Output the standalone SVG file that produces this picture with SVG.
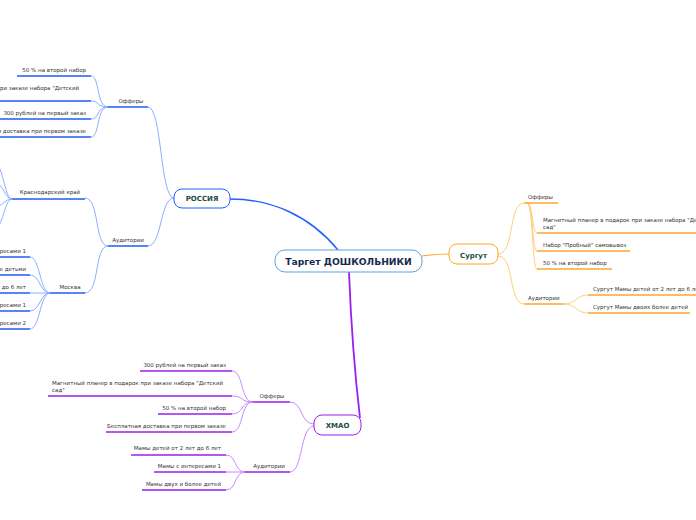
<svg xmlns="http://www.w3.org/2000/svg" width="696" height="520" viewBox="0 0 696 520">
<style>
text{font-family:"DejaVu Sans","Liberation Sans",sans-serif;fill:#333;font-size:5.5px}
.e{text-anchor:end}
.m{text-anchor:middle}
.nb{font-weight:bold;fill:#1d4b3a;font-size:7px;text-anchor:middle}
.root{font-weight:bold;fill:#172a4d;font-size:9.2px;text-anchor:middle}
path{fill:none}
.bU{stroke:#1f5cf5;stroke-width:1.4}
.bC{stroke:#7ea4ff;stroke-width:0.9}
.oU{stroke:#ffa628;stroke-width:1.4}
.oC{stroke:#ffc870;stroke-width:0.9}
.pU{stroke:#9a1fef;stroke-width:1.4}
.pC{stroke:#c27cff;stroke-width:0.9}
</style>
<rect width="696" height="520" fill="#fff"/>
<g id="connectors">
<path d="M338,250 C310,216 272,199 230,199" stroke="#2060ff" stroke-width="1.4"/>
<path d="M422,256 C436,254 440,254 449,254" stroke="#ffa628" stroke-width="1.2"/>
<path d="M349,272 Q352,350 360,418" stroke="#9a1fef" stroke-width="1.8"/>
<path class="bC" d="M174,198 C160,198 162,107 148,107"/>
<path class="bC" d="M174,198 C160,198 162,246 148,246"/>
<path class="bC" d="M108,107 C96,107 100,76 91,76"/>
<path class="bC" d="M108,107 C96,107 100,101 91,101"/>
<path class="bC" d="M108,107 C96,107 100,119 91,119"/>
<path class="bC" d="M108,107 C96,107 100,137 91,137"/>
<path class="bC" d="M108,246 C94,246 100,198 85,198"/>
<path class="bC" d="M108,246 C94,246 100,293 85,293"/>
<path class="bC" d="M12,199 C5,199 4,170 -4,163"/>
<path class="bC" d="M12,199 C5,199 4,185 -4,183"/>
<path class="bC" d="M12,199 C5,199 4,205 -4,207"/>
<path class="bC" d="M12,199 C5,199 4,222 -4,229"/>
<path class="bC" d="M50,293 C40,293 40,257 30,257"/>
<path class="bC" d="M50,293 C40,293 40,275 30,275"/>
<path class="bC" d="M50,293 C40,293 40,293 30,293"/>
<path class="bC" d="M50,293 C40,293 40,311 30,311"/>
<path class="bC" d="M50,293 C40,293 40,329 30,329"/>
<path class="oC" d="M498,254 C515,254 508,203 524,203"/>
<path class="oC" d="M498,256 C515,256 508,304 524,304"/>
<path class="oC" d="M527,203 C533,203 532,233 537,233"/>
<path class="oC" d="M527,203 C533,203 532,251 537,251"/>
<path class="oC" d="M527,203 C533,203 532,269 537,269"/>
<path class="oC" d="M564,304 C576,304 576,295 588,295"/>
<path class="oC" d="M564,304 C576,304 576,313 588,313"/>
<path class="pC" d="M314,424 C300,424 303,402 290,402"/>
<path class="pC" d="M314,426 C300,426 303,472 290,472"/>
<path class="pC" d="M253,402 C240,402 244,371 232,371"/>
<path class="pC" d="M253,402 C240,402 244,396 232,396"/>
<path class="pC" d="M253,402 C240,402 244,414 232,414"/>
<path class="pC" d="M253,402 C240,402 244,432 232,432"/>
<path class="pC" d="M245,472 C234,472 237,455 226,455"/>
<path class="pC" d="M245,472 C234,472 237,472 226,472"/>
<path class="pC" d="M245,472 C234,472 237,490 226,490"/>
</g>
<g id="root">
<rect x="275" y="250" width="147" height="22" rx="10" fill="#fff" stroke="#5aa3dc" stroke-width="1"/>
<text class="root" x="348.5" y="264.5">Таргет ДОШКОЛЬНИКИ</text>
</g>
<g id="russia">
<rect x="174" y="189" width="56" height="19" rx="8" fill="#fff" stroke="#2060ff" stroke-width="1"/>
<text class="nb" x="202" y="201">РОССИЯ</text>
</g>
<g id="ru-offers"><path class="bU" d="M108,107 H148"/><text x="131" y="103" class="m">Офферы</text></g>
<g id="ru-o1"><path class="bU" d="M17,76 H91"/><text x="86" y="72" class="e">50 % на второй набор</text></g>
<g id="ru-o2"><path class="bU" d="M-100,101 H91"/><text x="-92" y="90">Магнитный планер в подарок при заказе набора "Детский</text><text x="-92" y="97">сад"</text></g>
<g id="ru-o3"><path class="bU" d="M-10,119 H91"/><text x="86" y="115" class="e">300 рублей на первый заказ</text></g>
<g id="ru-o4"><path class="bU" d="M-40,137 H91"/><text x="86" y="133" class="e">Бесплатная доставка при первом заказе</text></g>
<g id="ru-aud"><path class="bU" d="M108,246 H148"/><text x="128" y="242" class="m">Аудитории</text></g>
<g id="ru-krd"><path class="bU" d="M12,199 H85"/><text x="50" y="194" class="m">Краснодарский край</text></g>
<g id="ru-msk"><path class="bU" d="M50,293 H85"/><text x="70" y="289" class="m">Москва</text></g>
<g id="msk1"><path class="bU" d="M-40,257 H30"/><text x="26" y="253" class="e">Мамы с интересами 1</text></g>
<g id="msk2"><path class="bU" d="M-40,275 H30"/><text x="26" y="271" class="e">Мамы с двумя и более детьми</text></g>
<g id="msk3"><path class="bU" d="M-40,293 H30"/><text x="26" y="289" class="e">Мамы детей от 2 лет до 6 лет</text></g>
<g id="msk4"><path class="bU" d="M-40,311 H30"/><text x="26" y="307" class="e">Мамы с интересами 1</text></g>
<g id="msk5"><path class="bU" d="M-40,329 H30"/><text x="26" y="325" class="e">Мамы с интересами 2</text></g>
<g id="surgut">
<rect x="449" y="244" width="49" height="20" rx="8" fill="#fff" stroke="#ffa628" stroke-width="1"/>
<text class="nb" x="473.5" y="257.5">Сургут</text>
</g>
<g id="su-offers"><path class="oU" d="M524,203 H558"/><text x="528" y="198.5">Офферы</text></g>
<g id="su-o1"><path class="oU" d="M537,233 H700"/><text x="543" y="221.5">Магнитный планер в подарок при заказе набора "Детский</text><text x="543" y="229">сад"</text></g>
<g id="su-o2"><path class="oU" d="M537,251 H630"/><text x="543" y="246.5">Набор "Пробный" самовывоз</text></g>
<g id="su-o3"><path class="oU" d="M537,269 H612"/><text x="543" y="264.5">50 % на второй набор</text></g>
<g id="su-aud"><path class="oU" d="M524,304 H564"/><text x="528" y="299.5">Аудитории</text></g>
<g id="su-a1"><path class="oU" d="M588,295 H700"/><text x="593" y="290.5">Сургут Мамы детей от 2 лет до 6 лет</text></g>
<g id="su-a2"><path class="oU" d="M588,313 H690"/><text x="593" y="308.5">Сургут Мамы двоих более детей</text></g>
<g id="khmao">
<rect x="314" y="415" width="47" height="20" rx="8" fill="#fff" stroke="#9a1fef" stroke-width="1"/>
<text class="nb" x="337.5" y="427.5">ХМАО</text>
</g>
<g id="kh-offers"><path class="pU" d="M253,402 H290"/><text x="272" y="397.5" class="m">Офферы</text></g>
<g id="kh-o1"><path class="pU" d="M140,371 H232"/><text x="226" y="366.5" class="e">300 рублей на первый заказ</text></g>
<g id="kh-o2"><path class="pU" d="M48,396 H232"/><text x="52" y="385">Магнитный планер в подарок при заказе набора "Детский</text><text x="52" y="391.5">сад"</text></g>
<g id="kh-o3"><path class="pU" d="M158,414 H232"/><text x="226" y="409.5" class="e">50 % на второй набор</text></g>
<g id="kh-o4"><path class="pU" d="M106,432 H232"/><text x="226" y="427.5" class="e">Бесплатная доставка при первом заказе</text></g>
<g id="kh-aud"><path class="pU" d="M245,472 H290"/><text x="269" y="467.5" class="m">Аудитории</text></g>
<g id="kh-a1"><path class="pU" d="M131,455 H226"/><text x="221" y="450" class="e">Мамы детей от 2 лет до 6 лет</text></g>
<g id="kh-a2"><path class="pU" d="M154,472 H226"/><text x="221" y="467.5" class="e">Мамы с интересами 1</text></g>
<g id="kh-a3"><path class="pU" d="M142,490 H226"/><text x="221" y="485.5" class="e">Мамы двух и более детей</text></g>
</svg>
